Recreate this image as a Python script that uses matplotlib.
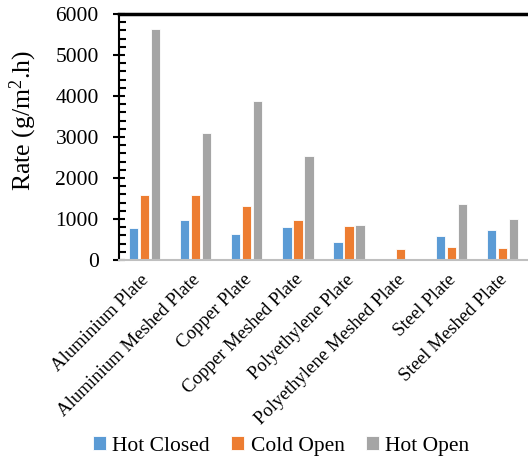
import matplotlib
matplotlib.use("Agg")
import matplotlib.pyplot as plt
import matplotlib.transforms as mtransforms
import numpy as np
from matplotlib.ticker import MultipleLocator

categories = ["Aluminium Plate", "Aluminium Meshed Plate", "Copper Plate", "Copper Meshed Plate",
              "Polyethylene Plate", "Polyethylene Meshed Plate", "Steel Plate", "Steel Meshed Plate"]
hot_closed = [790, 975, 634, 812, 447, 0, 585, 732]
cold_open = [1577, 1577, 1309, 975, 821, 260, 325, 293]
hot_open = [5626, 3097, 3870, 2545, 853, 0, 1366, 1008]
series_names = ["Hot Closed", "Cold Open", "Hot Open"]
colors = ["#5b9bd5", "#ed7d31", "#a5a5a5"]

plt.rcParams['font.family'] = ['Liberation Serif', 'DejaVu Serif']
plt.rcParams['mathtext.fontset'] = 'custom'
plt.rcParams['mathtext.rm'] = 'Liberation Serif'
plt.rcParams['mathtext.it'] = 'Liberation Serif:italic'

fig = plt.figure(figsize=(5.28, 4.59), dpi=100)
ax = fig.add_axes([119/528, 1-260/459, 409/528, 246/459])

x = np.arange(len(categories))
w = 0.18
off = 0.215
for i, (vals, c, n) in enumerate(zip([hot_closed, cold_open, hot_open], colors, series_names)):
    ax.bar(x + (i-1)*off, vals, width=w, color=c, label=n, edgecolor='white', linewidth=0.6, zorder=2)

ax.set_xlim(-0.5, len(categories)-0.5)
ax.set_ylim(0, 6000)
ax.yaxis.set_major_locator(MultipleLocator(1000))
ax.yaxis.set_minor_locator(MultipleLocator(200))
ax.tick_params(axis='y', which='major', direction='inout', length=9, width=1.5, labelsize=15.5, pad=10)
ax.tick_params(axis='y', which='minor', direction='in', length=5, width=1.5)
ax.set_xticks(x)
ax.set_xticklabels(categories, rotation=45, ha='right', rotation_mode='anchor', fontsize=13.5)
ax.tick_params(axis='x', length=0, pad=8)
shift = mtransforms.ScaledTranslation(-4/100, 0, fig.dpi_scale_trans)
for lbl in ax.get_xticklabels():
    lbl.set_transform(lbl.get_transform() + shift)

ax.spines['right'].set_visible(False)
ax.spines['top'].set_color('black')
ax.spines['top'].set_linewidth(2.5)
ax.spines['left'].set_linewidth(1.5)
ax.spines['bottom'].set_color('#bfbfbf')
ax.spines['bottom'].set_linewidth(1.5)

ax.set_ylabel("Rate (g/m$^{2}$.h)", fontsize=18.5)
ax.yaxis.set_label_coords((39-119)/409, (260-121)/246)

ax.legend(loc='center', bbox_to_anchor=(281/528, 1-446/459), ncol=3, frameon=False,
          fontsize=15.5, handlelength=0.6, handleheight=0.6, handletextpad=0.3, columnspacing=1.0,
          bbox_transform=fig.transFigure)

fig.savefig("out.png", dpi=100)
